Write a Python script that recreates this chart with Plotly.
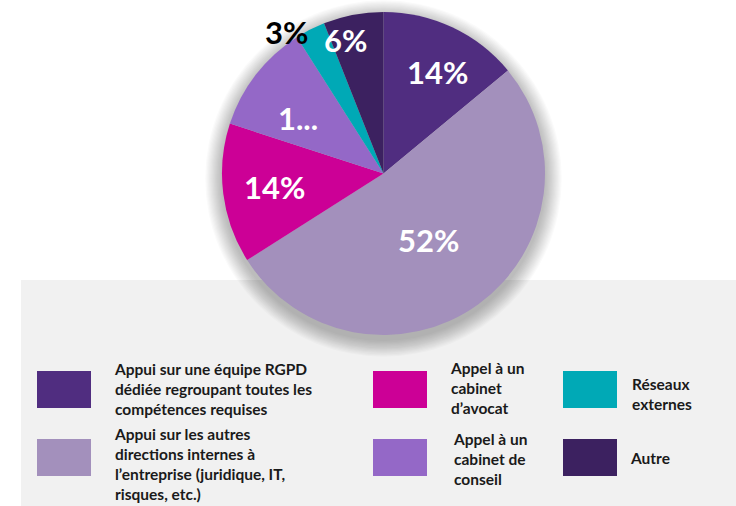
import math
import plotly.graph_objects as go

# Répartition des appuis mobilisés pour la conformité RGPD (%)
categories = [
    "Appui sur une équipe RGPD dédiée regroupant toutes les compétences requises",
    "Appui sur les autres directions internes à l’entreprise (juridique, IT, risques, etc.)",
    "Appel à un cabinet d’avocat",
    "Appel à un cabinet de conseil",
    "Réseaux externes",
    "Autre",
]
values = [14, 52, 14, 11, 3, 6]
colors = ["#502D80", "#A390BC", "#CC0096", "#9468C7", "#00A9B6", "#3C2160"]

# Legend text as displayed (line breaks included)
legend_text = [
    "Appui sur une équipe RGPD<br>dédiée regroupant toutes les<br>compétences requises",
    "Appui sur les autres<br>directions internes à<br>l’entreprise (juridique, IT,<br>risques, etc.)",
    "Appel à un<br>cabinet<br>d’avocat",
    "Appel à un<br>cabinet de<br>conseil",
    "Réseaux<br>externes",
    "Autre",
]

W, H = 736, 506
CX, CY, R = 383.5, 173.5, 161.5
FONT = "Lato, Roboto, sans-serif"


def px(x):
    return x / W


def py(y):
    return 1 - y / H


fig = go.Figure()
fig.add_trace(go.Pie(
    values=values,
    labels=categories,
    marker=dict(colors=colors, line=dict(width=0)),
    sort=False,
    direction="clockwise",
    rotation=0,
    textinfo="none",
    hoverinfo="skip",
    domain=dict(x=[px(CX - R), px(CX + R)], y=[py(CY + R), py(CY - R)]),
))

shapes = []
# grey legend panel
shapes.append(dict(type="rect", xref="paper", yref="paper", layer="below",
                   x0=px(21), x1=1, y0=0, y1=py(280),
                   fillcolor="#F1F1F1", line=dict(width=0)))
# soft drop shadow behind the pie
for k in range(1, 15):
    rr = R + 1.2 * k
    oy = 5
    shapes.append(dict(type="circle", xref="paper", yref="paper", layer="below",
                       x0=px(CX - rr), x1=px(CX + rr),
                       y0=py(CY + oy + rr), y1=py(CY + oy - rr),
                       fillcolor="rgba(0,0,0,0.018)", line=dict(width=0)))

annotations = []

# slice labels, positioned along each slice from its value
label_text = [f"{v}%" for v in values]
label_text[3] = "1..."
along = [0.556, 0.51, 0.504, 0.38, 0.45, 0.27]
radius = [0.71, 0.50, 0.68, 0.63, 0.99, 0.86]
label_color = ["white", "white", "white", "white", "black", "white"]
anchor = ["center", "center", "center", "center", "right", "center"]
total = sum(values)
cum = 0
for i, v in enumerate(values):
    th = 2 * math.pi * (cum + along[i] * v) / total
    x = CX + radius[i] * R * math.sin(th)
    y = CY - radius[i] * R * math.cos(th)
    annotations.append(dict(x=px(x), y=py(y), xref="paper", yref="paper",
                            text=f"<b>{label_text[i]}</b>", showarrow=False,
                            xanchor=anchor[i], yanchor="middle",
                            font=dict(family=FONT, size=31, color=label_color[i])))
    cum += v

# custom legend: coloured swatches with wrapped text
sw_x = [37, 37, 373, 373, 563, 563]
sw_y = [371, 439, 371, 439, 371, 439]
tx_x = [112, 112, 448, 451, 630, 628]
tx_y = [389, 464, 388, 459, 394, 458]
for i in range(len(values)):
    shapes.append(dict(type="rect", xref="paper", yref="paper",
                       x0=px(sw_x[i]), x1=px(sw_x[i] + 54),
                       y0=py(sw_y[i] + 37), y1=py(sw_y[i]),
                       fillcolor=colors[i], line=dict(width=0)))
    annotations.append(dict(x=px(tx_x[i]), y=py(tx_y[i]), xref="paper", yref="paper",
                            text=f"<b>{legend_text[i]}</b>", showarrow=False,
                            xanchor="left", yanchor="middle", align="left",
                            font=dict(family=FONT, size=15.5, color="#1A1A1A")))

fig.update_layout(
    width=W, height=H,
    margin=dict(l=0, r=0, t=0, b=0),
    paper_bgcolor="white",
    plot_bgcolor="white",
    showlegend=False,
    shapes=shapes,
    annotations=annotations,
)

fig.write_html("out.html")
